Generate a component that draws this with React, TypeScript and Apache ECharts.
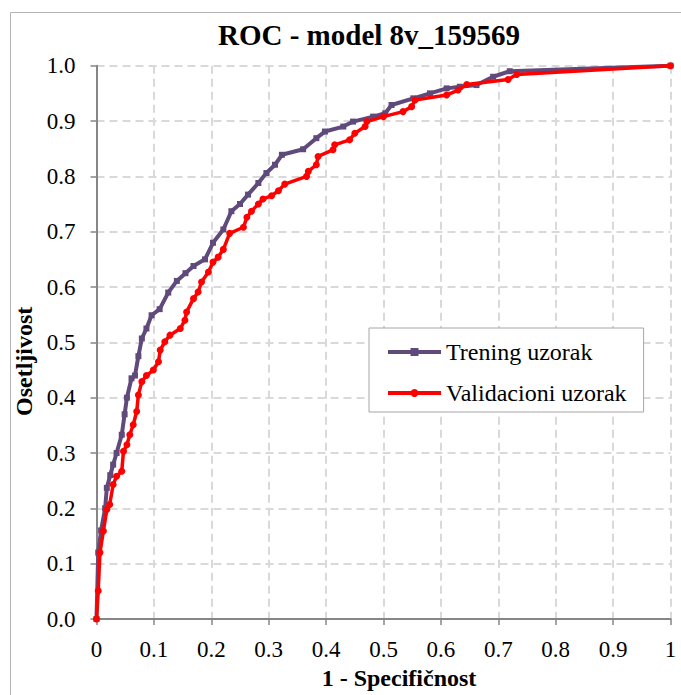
import React, { useEffect, useRef } from "react";
import * as echarts from "echarts";

const titleText = "ROC - model 8v_159569";
const xAxisName = "1 - Specifičnost";
const yAxisName = "Osetljivost";
const seriesNames = ["Trening uzorak", "Validacioni uzorak"];

const trainX = [0, 0.003, 0.008, 0.015, 0.018, 0.024, 0.029, 0.035, 0.044, 0.049, 0.053, 0.061, 0.067, 0.073, 0.079, 0.087, 0.096, 0.11, 0.125, 0.14, 0.155, 0.169, 0.189, 0.203, 0.221, 0.235, 0.25, 0.264, 0.282, 0.296, 0.311, 0.323, 0.36, 0.383, 0.398, 0.43, 0.447, 0.482, 0.503, 0.514, 0.552, 0.581, 0.61, 0.633, 0.662, 0.691, 0.72, 1];
const trainY = [0, 0.12, 0.16, 0.2, 0.237, 0.26, 0.279, 0.3, 0.333, 0.37, 0.4, 0.435, 0.44, 0.475, 0.507, 0.525, 0.549, 0.56, 0.59, 0.611, 0.625, 0.638, 0.65, 0.68, 0.704, 0.737, 0.75, 0.767, 0.788, 0.806, 0.821, 0.839, 0.849, 0.869, 0.881, 0.89, 0.899, 0.908, 0.914, 0.929, 0.941, 0.95, 0.959, 0.962, 0.965, 0.98, 0.99, 1];

const validX = [0, 0.003, 0.006, 0.012, 0.018, 0.023, 0.029, 0.035, 0.044, 0.047, 0.053, 0.058, 0.064, 0.07, 0.073, 0.079, 0.087, 0.099, 0.108, 0.111, 0.119, 0.128, 0.146, 0.154, 0.157, 0.169, 0.177, 0.183, 0.195, 0.203, 0.212, 0.221, 0.232, 0.256, 0.262, 0.27, 0.282, 0.29, 0.305, 0.317, 0.328, 0.366, 0.369, 0.383, 0.386, 0.412, 0.415, 0.441, 0.45, 0.468, 0.471, 0.5, 0.534, 0.549, 0.555, 0.61, 0.63, 0.645, 0.717, 0.732, 1];
const validY = [0, 0.051, 0.12, 0.159, 0.198, 0.207, 0.243, 0.258, 0.267, 0.303, 0.315, 0.333, 0.351, 0.375, 0.405, 0.429, 0.44, 0.45, 0.465, 0.486, 0.501, 0.513, 0.525, 0.54, 0.555, 0.579, 0.591, 0.609, 0.627, 0.645, 0.654, 0.668, 0.697, 0.708, 0.726, 0.737, 0.75, 0.759, 0.765, 0.774, 0.786, 0.8, 0.809, 0.821, 0.836, 0.848, 0.857, 0.866, 0.878, 0.89, 0.899, 0.908, 0.917, 0.926, 0.938, 0.947, 0.956, 0.966, 0.975, 0.984, 1];

const FONT = "Liberation Serif";
const AXIS_COLOR = "#868686";
const GRID_COLOR = "#d9d9d9";

export default function App() {
  const ref = useRef<HTMLDivElement>(null);
  useEffect(() => {
    if (!ref.current) return;
    const chart = echarts.init(ref.current, null, { renderer: "svg" });
    const train = trainX.map((x, i) => [x, trainY[i]]);
    const valid = validX.map((x, i) => [x, validY[i]]);
    chart.setOption({
      animation: false,
      backgroundColor: "#ffffff",
      textStyle: { fontFamily: FONT, fontWeight: "normal" },
      title: {
        text: titleText,
        left: 218,
        top: 20,
        padding: 0,
        textStyle: { fontFamily: FONT, fontSize: 29, fontWeight: "bold", color: "#000" },
      },
      graphic: [
        {
          type: "rect",
          shape: { x: 10.5, y: 12.5, width: 700, height: 720 },
          style: { fill: "none", stroke: "#b3b3b3", lineWidth: 1 },
          silent: true,
          z: -1,
        },
      ],
      legend: {
        orient: "vertical",
        left: 369,
        top: 328,
        padding: [12, 17, 7, 17],
        itemGap: 17,
        itemWidth: 53,
        itemHeight: 10,
        backgroundColor: "#ffffff",
        borderColor: "#a6a6a6",
        borderWidth: 1,
        borderRadius: 0,
        lineStyle: { width: 4 },
        textStyle: { fontFamily: FONT, fontSize: 24, fontWeight: "normal", color: "#000" },
        data: seriesNames,
      },
      grid: { left: 96.5, right: 10.5, top: 65.7, bottom: 72.7, containLabel: false },
      xAxis: {
        type: "value",
        min: 0,
        max: 1,
        interval: 0.1,
        name: xAxisName,
        nameLocation: "middle",
        nameGap: 47,
        nameTextStyle: { fontFamily: FONT, fontSize: 24, fontWeight: "bold", color: "#000", padding: [0, 0, 0, 31] },
        axisLine: { show: true, lineStyle: { color: AXIS_COLOR, width: 2 } },
        axisTick: { show: true, length: 6, inside: false, lineStyle: { color: AXIS_COLOR, width: 1.5 } },
        axisLabel: {
          margin: 19,
          fontFamily: FONT,
          fontWeight: "normal",
          fontSize: 23,
          color: "#000",
          formatter: (v: number) => (Math.abs(v) < 1e-9 ? "0" : Math.abs(v - 1) < 1e-9 ? "1" : v.toFixed(1)),
        },
        splitLine: { show: true, lineStyle: { color: GRID_COLOR, width: 2, type: [8, 5] } },
      },
      yAxis: {
        type: "value",
        min: 0,
        max: 1,
        interval: 0.1,
        name: yAxisName,
        nameLocation: "middle",
        nameRotate: 90,
        nameGap: 52,
        nameTextStyle: { fontFamily: FONT, fontSize: 24, fontWeight: "bold", color: "#000", padding: [0, 38, 0, 0] },
        axisLine: { show: true, lineStyle: { color: AXIS_COLOR, width: 2 } },
        axisTick: { show: true, length: 6, inside: false, lineStyle: { color: AXIS_COLOR, width: 1.5 } },
        axisLabel: {
          margin: 21,
          fontFamily: FONT,
          fontWeight: "normal",
          fontSize: 23,
          color: "#000",
          formatter: (v: number) => v.toFixed(1),
        },
        splitLine: { show: true, lineStyle: { color: GRID_COLOR, width: 2, type: [8, 5] } },
      },
      series: [
        {
          name: seriesNames[0],
          type: "line",
          data: train,
          symbol: "rect",
          symbolSize: 6,
          showAllSymbol: true,
          lineStyle: { color: "#604A7B", width: 4 },
          itemStyle: { color: "#604A7B" },
          z: 2,
        },
        {
          name: seriesNames[1],
          type: "line",
          data: valid,
          symbol: "circle",
          symbolSize: 7,
          showAllSymbol: true,
          lineStyle: { color: "#FF0000", width: 3.5 },
          itemStyle: { color: "#FF0000" },
          z: 3,
        },
      ],
    });
    return () => chart.dispose();
  }, []);
  return (
    <div
      ref={ref}
      style={{ position: "fixed", left: 0, top: 0, width: 681, height: 695 }}
    />
  );
}
